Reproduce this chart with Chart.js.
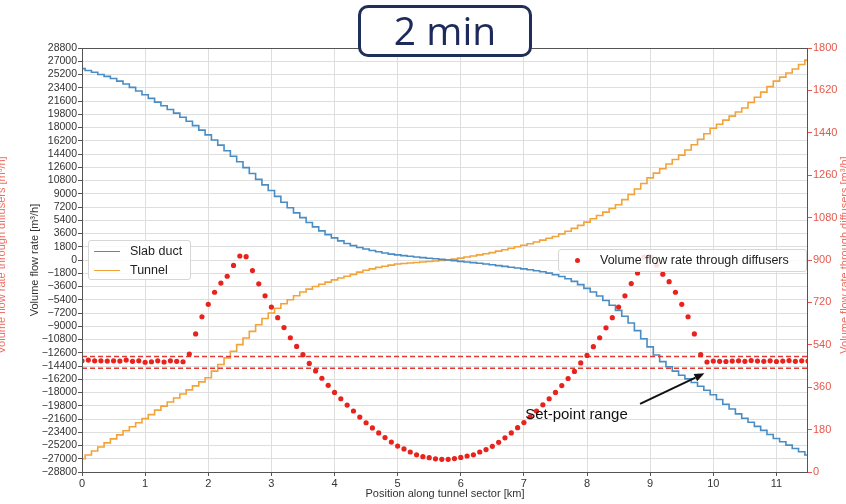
<!DOCTYPE html>
<html>
<head>
<meta charset="utf-8">
<script src="https://cdn.jsdelivr.net/npm/chart.js@4.4.1/dist/chart.umd.min.js"></script>
<style>
  html, body { margin: 0; padding: 0; background: #fff; }
  #wrap { position: relative; width: 846px; height: 504px; overflow: hidden; font-family: "Liberation Sans", Arial, sans-serif; }
  #chart { position: absolute; left: 0; top: 0; }
  .legend { position: absolute; background: rgba(255,255,255,0.86); border: 1px solid #d6d6d6; border-radius: 3px; font-size: 12.5px; color: #222; box-sizing: border-box; }
  .legend .row { position: absolute; white-space: nowrap; line-height: 14px; }
  .legend .ln { position: absolute; height: 0; border-top: 1.6px solid; }
  .legend .dot { position: absolute; width: 5px; height: 5px; border-radius: 50%; background: #e8231d; }
  .vtitle { position: absolute; width: 240px; height: 14px; line-height: 14px; text-align: center; font-size: 11px; color: #ee6a5e; transform: rotate(-90deg); white-space: nowrap; }
  #badge { position: absolute; left: 358px; top: 5px; width: 174px; height: 52px; box-sizing: border-box; border: 3.5px solid #1f2f57; border-radius: 10px; background: #fff; text-align: center; font-family: "Open Sans", "Noto Sans", sans-serif; font-size: 39px; line-height: 44px; color: #1f2a5c; }
</style>
</head>
<body>
<div id="wrap">
  <canvas id="chart" width="846" height="504"></canvas>

  <div class="vtitle" style="left:-119px; top:248px;">Volume flow rate through diffusers [m³/h]</div>
  <div class="vtitle" style="left:724px; top:248px;">Volume flow rate through diffusers [m³/h]</div>

  <div class="legend" style="left:88px; top:240px; width:103px; height:40px;">
    <div class="ln" style="left:5px; top:10px; width:26px; border-color:#4a8dc4;"></div>
    <div class="row" style="left:41px; top:3px;">Slab duct</div>
    <div class="ln" style="left:5px; top:29px; width:26px; border-color:#f2a33a;"></div>
    <div class="row" style="left:41px; top:22px;">Tunnel</div>
  </div>

  <div class="legend" style="left:558px; top:249px; width:249px; height:23px;">
    <div class="dot" style="left:16px; top:8px;"></div>
    <div class="row" style="left:41px; top:3px;">Volume flow rate through diffusers</div>
  </div>

  <div id="badge">2 min</div>
</div>

<script>
// position along tunnel sector [km]
const positions = [
  0.0, 0.1, 0.2, 0.3, 0.4, 0.5, 0.6, 0.7, 0.8, 0.9,
  1.0, 1.1, 1.2, 1.3, 1.4, 1.5, 1.6, 1.7, 1.8, 1.9,
  2.0, 2.1, 2.2, 2.3, 2.4, 2.5, 2.6, 2.7, 2.8, 2.9,
  3.0, 3.1, 3.2, 3.3, 3.4, 3.5, 3.6, 3.7, 3.8, 3.9,
  4.0, 4.1, 4.2, 4.3, 4.4, 4.5, 4.6, 4.7, 4.8, 4.9,
  5.0, 5.1, 5.2, 5.3, 5.4, 5.5, 5.6, 5.7, 5.8, 5.9,
  6.0, 6.1, 6.2, 6.3, 6.4, 6.5, 6.6, 6.7, 6.8, 6.9,
  7.0, 7.1, 7.2, 7.3, 7.4, 7.5, 7.6, 7.7, 7.8, 7.9,
  8.0, 8.1, 8.2, 8.3, 8.4, 8.5, 8.6, 8.7, 8.8, 8.9,
  9.0, 9.1, 9.2, 9.3, 9.4, 9.5, 9.6, 9.7, 9.8, 9.9,
  10.0, 10.1, 10.2, 10.3, 10.4, 10.5, 10.6, 10.7, 10.8, 10.9,
  11.0, 11.1, 11.2, 11.3, 11.4, 11.5
];

// volume flow rate [m3/h], left axis
const slabDuct = [
  26000, 25750, 25500, 25200, 24950, 24650, 24300, 23900, 23450, 22950,
  22450, 21950, 21450, 20950, 20450, 19950, 19400, 18850, 18250, 17650,
  17000, 16300, 15600, 14850, 14100, 13350, 12550, 11750, 10950, 10200,
  9450, 8650, 7850, 7100, 6400, 5750, 5100, 4500, 3950, 3450,
  3000, 2600, 2250, 1950, 1700, 1500, 1300, 1120, 950, 800,
  700, 600, 500, 400, 320, 240, 160, 80, 0, -90,
  -180, -270, -360, -450, -550, -650, -760, -870, -980, -1090,
  -1200, -1330, -1460, -1600, -1780, -2000, -2250, -2550, -2900, -3350,
  -3850, -4350, -4900, -5500, -6150, -6850, -7650, -8550, -9600, -10700,
  -11800, -12900, -13800, -14500, -15100, -15650, -16150, -16650, -17150, -17700,
  -18300, -18950, -19600, -20250, -20900, -21500, -22050, -22600, -23150, -23700,
  -24250, -24700, -25150, -25600, -26050, -26500
];

const tunnel = [
  -27000, -26500, -25950, -25400, -24850, -24300, -23750, -23200, -22650, -22100,
  -21550, -21000, -20400, -19850, -19300, -18750, -18200, -17650, -17100, -16550,
  -16000, -15100, -14200, -13300, -12400, -11500, -10600, -9700, -8800, -7950,
  -7200, -6550, -5950, -5400, -4850, -4350, -3950, -3600, -3300, -3000,
  -2700, -2450, -2200, -1950, -1650, -1400, -1200, -1000, -850, -700,
  -550, -480, -410, -340, -270, -200, -130, -60, 0, 120,
  250, 400, 550, 700, 850, 1000, 1200, 1400, 1600, 1800,
  2000, 2200, 2450, 2700, 2950, 3200, 3550, 3900, 4300, 4700,
  5150, 5600, 6050, 6500, 7000, 7500, 8200, 8900, 9650, 10400,
  11150, 11800, 12400, 13050, 13650, 14250, 14950, 15650, 16400, 17150,
  17900, 18450, 19000, 19550, 20100, 20650, 21400, 22100, 22800, 23550,
  24300, 24850, 25400, 25950, 26550, 27150
];

// volume flow rate through diffusers [m3/h], right axis
const diffusers = [
  472, 475, 472, 472, 471, 472, 471, 475, 470, 472,
  466, 468, 472, 467, 472, 470, 468, 501, 586, 659,
  712, 763, 802, 831, 877, 917, 914, 855, 799, 748,
  700, 655, 613, 570, 533, 498, 461, 429, 398, 368,
  338, 311, 284, 259, 233, 209, 187, 166, 146, 127,
  110, 98, 85, 73, 65, 61, 56, 54, 54, 57,
  62, 68, 73, 85, 95, 109, 126, 145, 166, 188,
  210, 234, 259, 285, 311, 338, 367, 397, 427, 463,
  495, 532, 570, 612, 655, 700, 748, 800, 845, 912,
  916, 878, 840, 808, 763, 712, 659, 586, 498, 467,
  471, 470, 469, 471, 472, 470, 473, 471, 470, 472,
  469, 471, 473, 470, 472, 471
];

// set-point range [m3/h], right axis
const setPointRange = [440, 490];

// tick labels
const xTicks = [0, 1, 2, 3, 4, 5, 6, 7, 8, 9, 10, 11];
const leftTicks = [
  -28800, -27000, -25200, -23400, -21600, -19800, -18000, -16200, -14400, -12600, -10800,
  -9000, -7200, -5400, -3600, -1800, 0, 1800, 3600, 5400, 7200, 9000,
  10800, 12600, 14400, 16200, 18000, 19800, 21600, 23400, 25200, 27000, 28800
];
const rightTicks = [0, 180, 360, 540, 720, 900, 1080, 1260, 1440, 1620, 1800];

const X_MIN = 0, X_MAX = 11.5;

const RED = '#e8231d';
const RED_TXT = '#e5584d';
const BLUE = '#4a8dc4';
const ORANGE = '#f2a33a';

const pairs = (ys) => positions.map((p, i) => ({ x: p, y: ys[i] }));
const fmt = (v) => (v < 0 ? '\u2212' + Math.abs(v) : String(v));

Chart.defaults.font.family = "'Liberation Sans', Arial, sans-serif";
Chart.defaults.color = '#333';

// plot frame (spines)
const frame = {
  id: 'frame',
  afterDatasetsDraw(chart) {
    const { ctx, chartArea: a } = chart;
    ctx.save();
    ctx.strokeStyle = '#555';
    ctx.lineWidth = 1;
    ctx.strokeRect(a.left + 0.5, a.top + 0.5, a.width - 1, a.height);
    ctx.restore();
  }
};

// "Set-point range" note with arrow
const note = {
  id: 'note',
  afterDraw(chart, args, opts) {
    const { ctx, scales: { x, y1 } } = chart;
    const x0 = x.getPixelForValue(opts.tail[0]), y0 = y1.getPixelForValue(opts.tail[1]);
    const x1 = x.getPixelForValue(opts.head[0]), y1p = y1.getPixelForValue(opts.head[1]);
    const ang = Math.atan2(y1p - y0, x1 - x0);
    const hl = 10, hw = 4;
    const bx = x1 - hl * Math.cos(ang), by = y1p - hl * Math.sin(ang);
    ctx.save();
    ctx.strokeStyle = '#111';
    ctx.fillStyle = '#111';
    ctx.lineWidth = 2;
    ctx.beginPath();
    ctx.moveTo(x0, y0);
    ctx.lineTo(bx, by);
    ctx.stroke();
    ctx.beginPath();
    ctx.moveTo(x1, y1p);
    ctx.lineTo(bx + hw * Math.sin(ang), by - hw * Math.cos(ang));
    ctx.lineTo(bx - hw * Math.sin(ang), by + hw * Math.cos(ang));
    ctx.closePath();
    ctx.fill();
    ctx.font = "15px 'Liberation Sans', Arial, sans-serif";
    ctx.textBaseline = 'middle';
    ctx.fillText(opts.text, x.getPixelForValue(opts.at[0]), y1.getPixelForValue(opts.at[1]));
    ctx.restore();
  }
};

new Chart(document.getElementById('chart'), {
  type: 'line',
  data: {
    datasets: [
      {
        label: 'Volume flow rate through diffusers',
        data: pairs(diffusers),
        yAxisID: 'y1',
        showLine: false,
        pointRadius: 2.6,
        pointBackgroundColor: RED,
        pointBorderWidth: 0,
        order: 0
      },
      {
        label: 'Set-point upper',
        data: [{ x: X_MIN, y: setPointRange[1] }, { x: X_MAX, y: setPointRange[1] }],
        yAxisID: 'y1',
        borderColor: '#e2382f',
        borderWidth: 1.5,
        borderDash: [5, 3],
        pointRadius: 0,
        order: 1
      },
      {
        label: 'Set-point lower',
        data: [{ x: X_MIN, y: setPointRange[0] }, { x: X_MAX, y: setPointRange[0] }],
        yAxisID: 'y1',
        borderColor: '#e2382f',
        borderWidth: 1.5,
        borderDash: [5, 3],
        pointRadius: 0,
        order: 1
      },
      {
        label: 'Slab duct',
        data: pairs(slabDuct),
        yAxisID: 'y',
        borderColor: BLUE,
        borderWidth: 1.6,
        stepped: 'middle',
        pointRadius: 0,
        order: 2
      },
      {
        label: 'Tunnel',
        data: pairs(tunnel),
        yAxisID: 'y',
        borderColor: ORANGE,
        borderWidth: 1.6,
        stepped: 'middle',
        pointRadius: 0,
        order: 3
      }
    ]
  },
  options: {
    responsive: false,
    animation: false,
    devicePixelRatio: 1,
    layout: { padding: { top: 48, left: 0, right: 0, bottom: 0 } },
    plugins: {
      legend: { display: false },
      tooltip: { enabled: false },
      note: {
        text: 'Set-point range',
        tail: [8.84, 289],
        head: [9.86, 419],
        at: [7.02, 242]
      }
    },
    scales: {
      x: {
        type: 'linear',
        min: X_MIN,
        max: X_MAX,
        afterBuildTicks: (s) => { s.ticks = xTicks.map(v => ({ value: v })); },
        afterFit: (s) => { s.height = 32; },
        border: { display: false },
        grid: { color: '#dedede', tickColor: '#555', tickLength: 4 },
        ticks: { font: { size: 11 }, padding: 1, color: '#333', autoSkip: false, maxRotation: 0 },
        title: {
          display: true,
          text: 'Position along tunnel sector [km]',
          font: { size: 11 },
          color: '#333',
          padding: { top: 0, bottom: 3 }
        }
      },
      y: {
        position: 'left',
        min: -28800,
        max: 28800,
        afterBuildTicks: (s) => { s.ticks = leftTicks.map(v => ({ value: v })); },
        afterFit: (s) => { s.width = 82; },
        border: { display: false },
        grid: { color: '#dedede', tickColor: '#555', tickLength: 4 },
        ticks: { font: { size: 10.5 }, padding: 1, color: '#333', autoSkip: false, callback: fmt },
        title: {
          display: true,
          text: 'Volume flow rate [m³/h]',
          font: { size: 11 },
          color: '#333',
          padding: { top: 28, bottom: 0 }
        }
      },
      y1: {
        position: 'right',
        min: 0,
        max: 1800,
        afterBuildTicks: (s) => { s.ticks = rightTicks.map(v => ({ value: v })); },
        afterFit: (s) => { s.width = 38; },
        border: { display: false },
        grid: { drawOnChartArea: false, tickColor: RED_TXT, tickLength: 4 },
        ticks: { font: { size: 11 }, padding: 1, color: RED_TXT, autoSkip: false, callback: fmt }
      }
    }
  },
  plugins: [frame, note]
});
</script>
</body>
</html>
